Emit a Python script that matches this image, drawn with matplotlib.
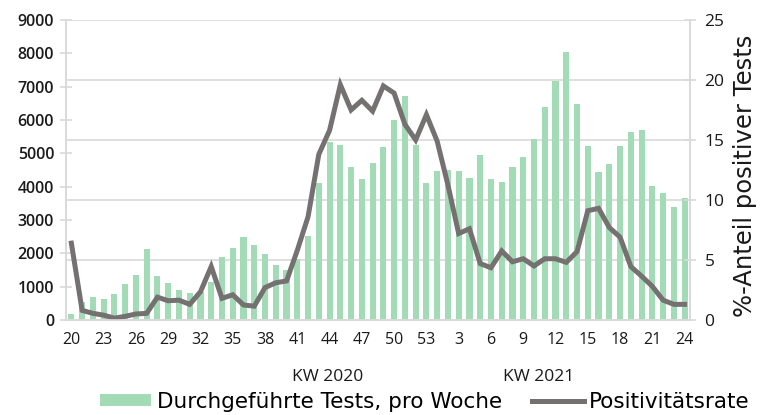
import matplotlib
matplotlib.use("Agg")
from matplotlib import pyplot as plt
import matplotlib.transforms as mtransforms
import numpy as np

plt.rcParams['font.family'] = ['Open Sans', 'DejaVu Sans']

# KW 20/2020 bis KW 24/2021
wochen = list(range(20, 54)) + list(range(1, 25))

tests = [180, 550, 700, 620, 780, 1090, 1350, 2120, 1320, 1120,
         900, 810, 850, 1150, 1890, 2150, 2490, 2250, 1980, 1650,
         1500, 1840, 2520, 4100, 5350, 5250, 4600, 4230, 4710, 5190,
         6000, 6710, 5250, 4100, 4470, 4500, 4470, 4250, 4950, 4230,
         4130, 4580, 4900, 5440, 6380, 7180, 8050, 6480, 5210, 4450,
         4670, 5220, 5650, 5700, 4020, 3820, 3400, 3650]

positiv = [6.4, 0.8, 0.55, 0.4, 0.15, 0.3, 0.5, 0.55, 1.9, 1.6,
           1.65, 1.3, 2.35, 4.45, 1.8, 2.1, 1.25, 1.15, 2.7, 3.1,
           3.25, 5.8, 8.6, 13.8, 15.8, 19.6, 17.5, 18.3, 17.4, 19.5,
           18.9, 16.3, 15.0, 17.1, 14.9, 11.25, 7.2, 7.6, 4.7, 4.35,
           5.75, 4.85, 5.1, 4.5, 5.1, 5.1, 4.8, 5.7, 9.1, 9.3,
           7.7, 6.9, 4.45, 3.65, 2.8, 1.65, 1.3, 1.3]

x = np.arange(len(wochen))
gruen = '#a3dbb7'
grau = '#757171'
hell = '#d9d9d9'
schwarz = '#1a1a1a'

fig = plt.figure(figsize=(7.61, 4.15), dpi=100)
ax = fig.add_axes([0.0867, 0.229, 0.82, 0.723])
ax2 = ax.twinx()

ax.bar(x, tests, width=0.57, color=gruen, zorder=2, label='Durchgeführte Tests, pro Woche')
for k in range(1, 6):
    ax.axhline(k * 1800, color=hell, lw=1.2, zorder=1)

ax2.plot(x, positiv, color=grau, lw=3.6, solid_joinstyle='miter', label='Positivitätsrate')

ax.set_xlim(-0.5, len(wochen) - 0.5)
ax.set_ylim(0, 9000)
ax2.set_ylim(0, 25)
ax.set_yticks(range(0, 9001, 1000))
ax2.set_yticks(range(0, 26, 5))
ax.set_xticks(x[::3])
ax.set_xticklabels([str(w) for w in wochen[::3]])

for a in (ax, ax2):
    a.spines['top'].set_visible(False)
    for s in ('left', 'right', 'bottom'):
        a.spines[s].set_color(hell)
        a.spines[s].set_linewidth(1.2)

ax.tick_params(axis='y', direction='inout', length=9, color=hell, width=1.2,
               labelsize=11.5, labelcolor=schwarz, pad=4)
for t in ax.get_yticklabels():
    t.set_fontweight('semibold')
ax2.tick_params(axis='y', direction='inout', length=9, color=hell, width=1.2,
                labelsize=12.5, labelcolor=schwarz, pad=6)
ax.tick_params(axis='x', length=0, labelsize=11.5, labelcolor=schwarz, pad=9)

trans = mtransforms.blended_transform_factory(ax.transData, fig.transFigure)
ax.text(23.8, 1 - 377 / 415, 'KW 2020', transform=trans, ha='center', va='center',
        fontsize=12.5, color=schwarz)
ax.text(43.4, 1 - 377 / 415, 'KW 2021', transform=trans, ha='center', va='center',
        fontsize=12.5, color=schwarz)

fig.text(733 / 761, 1 - 317 / 415, '%-Anteil positiver Tests', rotation=90,
         ha='left', va='bottom', fontsize=17.5, color=schwarz, family='DejaVu Sans')

h1, l1 = ax.get_legend_handles_labels()
h2, l2 = ax2.get_legend_handles_labels()
fig.legend(h1 + h2, l1 + l2, loc='center', bbox_to_anchor=(0.558, 1 - 402 / 415), ncol=2,
           frameon=False, prop={'family': 'DejaVu Sans', 'size': 15.5},
           handlelength=2.4, handletextpad=0.25,
           columnspacing=1.4, handleheight=0.5, borderpad=0, borderaxespad=0)

fig.savefig('out.png', dpi=100)
